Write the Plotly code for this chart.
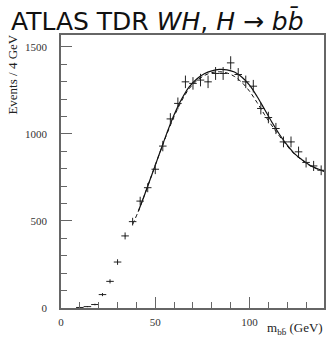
import plotly.graph_objects as go

# Data points (bin centres, GeV) and events / 4 GeV
mass = [10, 14, 18, 22, 26, 30, 34, 38, 42, 46, 50, 54, 58, 62, 66, 70, 74, 78,
        82, 86, 90, 94, 98, 102, 106, 110, 114, 118, 122, 126, 130, 134, 138]
events = [3, 8, 20, 77, 153, 264, 414, 496, 614, 691, 797, 930, 1086, 1175, 1299,
          1290, 1309, 1299, 1347, 1347, 1408, 1341, 1299, 1274, 1146, 1094, 1031,
          954, 954, 897, 836, 816, 791]
err_y = [2, 3, 4.5, 9, 12, 16, 20, 22, 25, 26, 28, 30, 33, 34, 36, 36, 36, 36,
         37, 37, 38, 37, 36, 36, 34, 33, 32, 31, 31, 30, 29, 29, 28]
half_bin = [2] * len(mass)

# Fit curves
fit_x = [41, 44, 48, 52, 56, 60, 64, 68, 72, 76, 80, 84, 88, 92, 96, 100, 104,
         108, 112, 116, 120, 124, 128, 132, 136, 140]
fit_solid = [555, 640, 760, 880, 1000, 1110, 1200, 1270, 1315, 1345, 1362, 1370,
             1368, 1355, 1325, 1280, 1215, 1140, 1065, 995, 935, 885, 850, 820,
             800, 785]
dash_x = [38, 41, 44, 48, 52, 56, 60, 64, 68, 72, 76, 80, 84, 88, 92, 96, 100,
          104, 108, 112, 116, 120, 124, 128, 132, 136, 140]
fit_dashed = [480, 555, 640, 760, 880, 995, 1100, 1190, 1260, 1305, 1335, 1352,
              1357, 1350, 1330, 1295, 1245, 1180, 1110, 1045, 985, 930, 882, 848,
              818, 798, 783]

x_ticks = [0, 50, 100]
y_ticks = [0, 500, 1000, 1500]

fig = go.Figure()
fig.add_trace(go.Scatter(x=dash_x, y=fit_dashed, mode="lines",
                         line=dict(color="#111", width=1, dash="4px,3px", shape="spline"),
                         showlegend=False))
fig.add_trace(go.Scatter(x=fit_x, y=fit_solid, mode="lines",
                         line=dict(color="#111", width=1.2, shape="spline"),
                         showlegend=False))
fig.add_trace(go.Scatter(x=mass, y=events, mode="markers",
                         marker=dict(size=1, color="#222"),
                         error_x=dict(type="data", array=half_bin, width=0, thickness=1, color="#222"),
                         error_y=dict(type="data", array=err_y, width=0, thickness=1, color="#222"),
                         showlegend=False))

axis_common = dict(showgrid=False, zeroline=False, showline=True, mirror=True,
                   linecolor="#666", linewidth=1.5, ticks="inside", tickcolor="#666",
                   tickwidth=1, ticklen=11,
                   tickfont=dict(family="Liberation Serif", size=11, color="#333"))

fig.update_xaxes(range=[0, 139.5], tickvals=x_ticks, ticklabelstandoff=3,
                 minor=dict(dtick=10, ticks="inside", ticklen=6, tickcolor="#666", tickwidth=1),
                 **axis_common)
fig.update_yaxes(range=[0, 1568], tickvals=y_ticks, ticklabelstandoff=10,
                 minor=dict(dtick=100, ticks="inside", ticklen=6, tickcolor="#666", tickwidth=1),
                 **axis_common)

fig.update_layout(
    width=328, height=340,
    margin=dict(l=61, r=2, t=35, b=32),
    paper_bgcolor="white", plot_bgcolor="white",
    annotations=[
        dict(text="ATLAS TDR <i>WH</i>, <i>H</i> → <i>bb\u0304</i>",
             xref="paper", yref="paper", x=0.368, y=1.053,
             xanchor="center", yanchor="middle", showarrow=False,
             font=dict(family="DejaVu Sans", size=25, color="#111")),
        dict(text="Events / 4 GeV", textangle=-90,
             xref="paper", yref="paper", x=-0.185, y=1.01,
             xanchor="center", yanchor="top", showarrow=False,
             font=dict(family="Liberation Serif", size=13, color="#222")),
        dict(text="m<sub>bb\u0304</sub> (GeV)",
             xref="paper", yref="paper", x=1.005, y=-0.075,
             xanchor="right", yanchor="middle", showarrow=False,
             font=dict(family="Liberation Serif", size=13, color="#222")),
    ],
)

fig.write_html("out.html", config={"displayModeBar": False},
               post_script="document.body.style.margin='0';document.body.style.overflow='hidden';")
